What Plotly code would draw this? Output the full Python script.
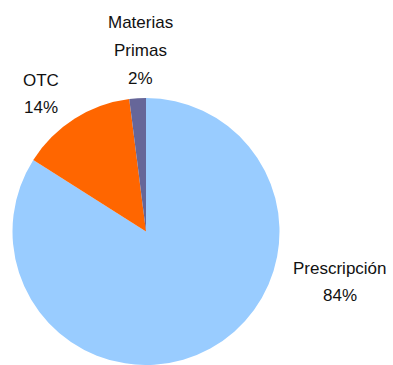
import plotly.graph_objects as go

labels = ["Prescripción", "OTC", "Materias Primas"]
values = [84, 14, 2]
colors = ["#99CCFF", "#FF6600", "#666699"]
label_lines = [["Prescripción", "84%"], ["OTC", "14%"], ["Materias", "Primas", "2%"]]

W, H = 393, 365

fig = go.Figure(go.Pie(
    labels=labels,
    values=values,
    sort=False,
    direction="clockwise",
    rotation=0,
    marker=dict(colors=colors, line=dict(width=0)),
    textinfo="none",
    hoverinfo="label+percent",
    domain=dict(x=[9 / W, 283 / W], y=[0, 1 - 98 / H]),
    showlegend=False,
))

# (center x, first line cap-center y, line step) in pixels
label_pos = [(340, 268, 27), (41, 80, 27), (140, 23, 27.5)]
font = dict(family="Liberation Sans, Arial, sans-serif", size=17, color="#111111")
for lines, (px, py, step) in zip(label_lines, label_pos):
    for i, ln in enumerate(lines):
        yy = py + i * step
        fig.add_annotation(text=ln, x=px / W, y=1 - yy / H, xref="paper", yref="paper",
                           showarrow=False, xanchor="center", yanchor="middle",
                           align="center", font=font)

fig.update_layout(width=W, height=H, margin=dict(l=0, r=0, t=0, b=0),
                  paper_bgcolor="white", plot_bgcolor="white")

fig.write_html("out.html")
